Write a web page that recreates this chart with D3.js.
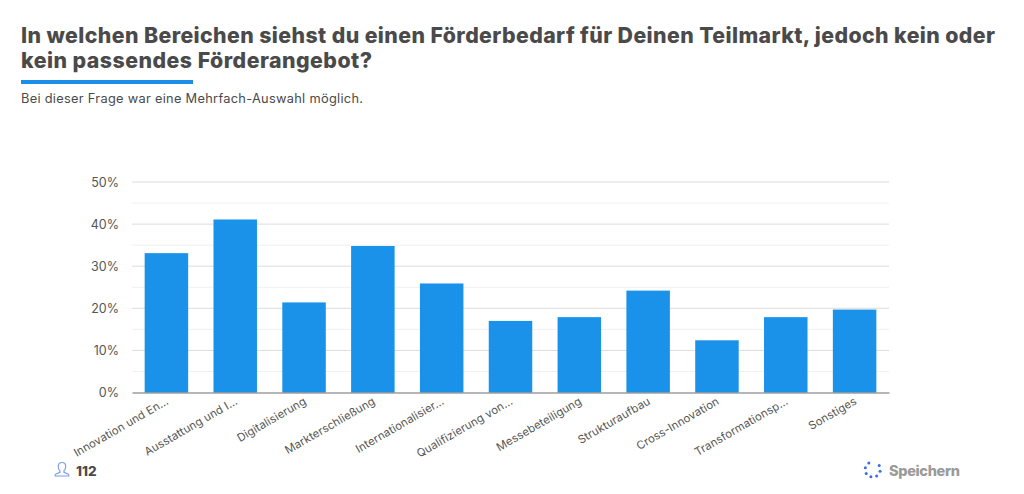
<!DOCTYPE html>
<html>
<head>
<meta charset="utf-8">
<script src="https://cdn.jsdelivr.net/npm/d3@7"></script>
<style>
  html, body { margin: 0; padding: 0; background: #fff; }
  svg { display: block; }
  text { font-family: Inter, "Noto Sans", sans-serif; }
</style>
</head>
<body>
<svg id="chart" width="1024" height="494"></svg>
<script>
const titleLines = [
    "In welchen Bereichen siehst du einen Förderbedarf für Deinen Teilmarkt, jedoch kein oder",
    "kein passendes Förderangebot?"
];
const subtitle = "Bei dieser Frage war eine Mehrfach-Auswahl möglich.";
const categories = [
    "Innovation und En…", "Ausstattung und I…", "Digitalisierung", "Markterschließung",
    "Internationalisier…", "Qualifizierung von…", "Messebeteiligung", "Strukturaufbau",
    "Cross-Innovation", "Transformationsp…", "Sonstiges"
];
const values = [33.1, 41.1, 21.4, 34.8, 25.9, 17.0, 17.9, 24.2, 12.4, 17.9, 19.7];
const majorTicks = [0, 10, 20, 30, 40, 50];
const minorTicks = [5, 15, 25, 35, 45];
const respondents = "112";
const saveLabel = "Speichern";

const svg = d3.select("#chart");
const margin = {top: 182, right: 135, bottom: 101.5, left: 132};
const width = 1024 - margin.left - margin.right;
const height = 494 - margin.top - margin.bottom;

// Header
svg.selectAll(".title")
    .data(titleLines)
    .join("text")
    .attr("class", "title")
    .attr("x", 21)
    .attr("y", (d, i) => 42.5 + i * 25.5)
    .attr("fill", "#4a4a4a")
    .style("font-size", "21.3px")
    .style("font-weight", 800)
    .attr("textLength", (d, i) => i === 0 ? 974 : 351)
    .attr("lengthAdjust", "spacing")
    .text(d => d);

svg.append("rect")
    .attr("x", 21).attr("y", 80)
    .attr("width", 172).attr("height", 4)
    .attr("fill", "#1b8fe8");

svg.append("text")
    .attr("x", 21).attr("y", 102.5)
    .attr("fill", "#4a4a4a")
    .style("font-size", "12.8px")
    .attr("textLength", 342)
    .attr("lengthAdjust", "spacing")
    .text(subtitle);

const g = svg.append("g")
    .attr("transform", `translate(${margin.left},${margin.top})`);

const x = d3.scaleBand()
    .domain(categories)
    .range([0, width])
    .paddingInner(0.368)
    .paddingOuter(0.184);

const y = d3.scaleLinear()
    .domain([0, 50])
    .range([height, 0]);

// Gridlines
g.selectAll(".minor")
    .data(minorTicks)
    .join("line")
    .attr("class", "minor")
    .attr("x1", 0).attr("x2", width)
    .attr("y1", d => y(d)).attr("y2", d => y(d))
    .attr("stroke", "#f0f0f0");

g.selectAll(".major")
    .data(majorTicks.filter(d => d > 0))
    .join("line")
    .attr("class", "major")
    .attr("x1", 0).attr("x2", width)
    .attr("y1", d => y(d)).attr("y2", d => y(d))
    .attr("stroke", "#dcdcdc");

// Bars
g.selectAll(".bar")
    .data(categories)
    .join("rect")
    .attr("class", "bar")
    .attr("x", d => x(d))
    .attr("y", (d, i) => y(values[i]))
    .attr("width", x.bandwidth())
    .attr("height", (d, i) => height - y(values[i]))
    .attr("fill", "#1b92ea");

// Axes
const yAxis = g.append("g")
    .call(d3.axisLeft(y).tickValues(majorTicks).tickFormat(d => d + "%").tickSize(0).tickPadding(13));
yAxis.select(".domain").remove();
yAxis.selectAll("text")
    .attr("fill", "#555")
    .style("font-size", "12.5px");

const xAxis = g.append("g")
    .attr("transform", `translate(0,${height})`)
    .call(d3.axisBottom(x).tickSize(0).tickPadding(0));
xAxis.select(".domain").attr("stroke", "#6e6e6e").attr("stroke-width", 1.2);
xAxis.selectAll("text")
    .attr("fill", "#555")
    .attr("text-anchor", "end")
    .attr("dy", 0)
    .attr("transform", "translate(3,11) rotate(-30)")
    .style("font-size", "11.3px")
    .style("letter-spacing", "0.1px");

// Footer: respondent count
const user = svg.append("g")
    .attr("transform", "translate(55,462)")
    .attr("fill", "none")
    .attr("stroke", "#7d9cf0")
    .attr("stroke-width", 1.2);
user.append("path")
    .attr("d", "M7 0.5c-2.4 0-3.8 1.9-3.8 4.1 0 1.7.7 3.2 1.7 4.1v1.6L1 12c-.6.3-.8.8-.8 1.4v.6h13.6v-.6c0-.6-.2-1.1-.8-1.4l-4-1.7V8.7c1-.9 1.7-2.4 1.7-4.1C10.8 2.4 9.4.5 7 .5z");

svg.append("text")
    .attr("x", 76).attr("y", 476)
    .attr("fill", "#4a4a4a")
    .style("font-size", "13.5px")
    .style("font-weight", 800)
    .text(respondents);

// Footer: save button
const spinner = svg.append("g").attr("transform", "translate(872.7,469.5)");
spinner.selectAll("circle")
    .data(d3.range(7))
    .join("circle")
    .attr("cx", d => 7.6 * Math.cos((d * 45 - 31) * Math.PI / 180))
    .attr("cy", d => 7.6 * Math.sin((d * 45 - 31) * Math.PI / 180))
    .attr("r", 1.5)
    .attr("fill", "#3b6fe0");

svg.append("text")
    .attr("x", 889).attr("y", 476)
    .attr("fill", "#9a9a9a")
    .style("font-size", "14.5px")
    .style("font-weight", 800)
    .attr("textLength", 71)
    .attr("lengthAdjust", "spacing")
    .text(saveLabel);
</script>
</body>
</html>
